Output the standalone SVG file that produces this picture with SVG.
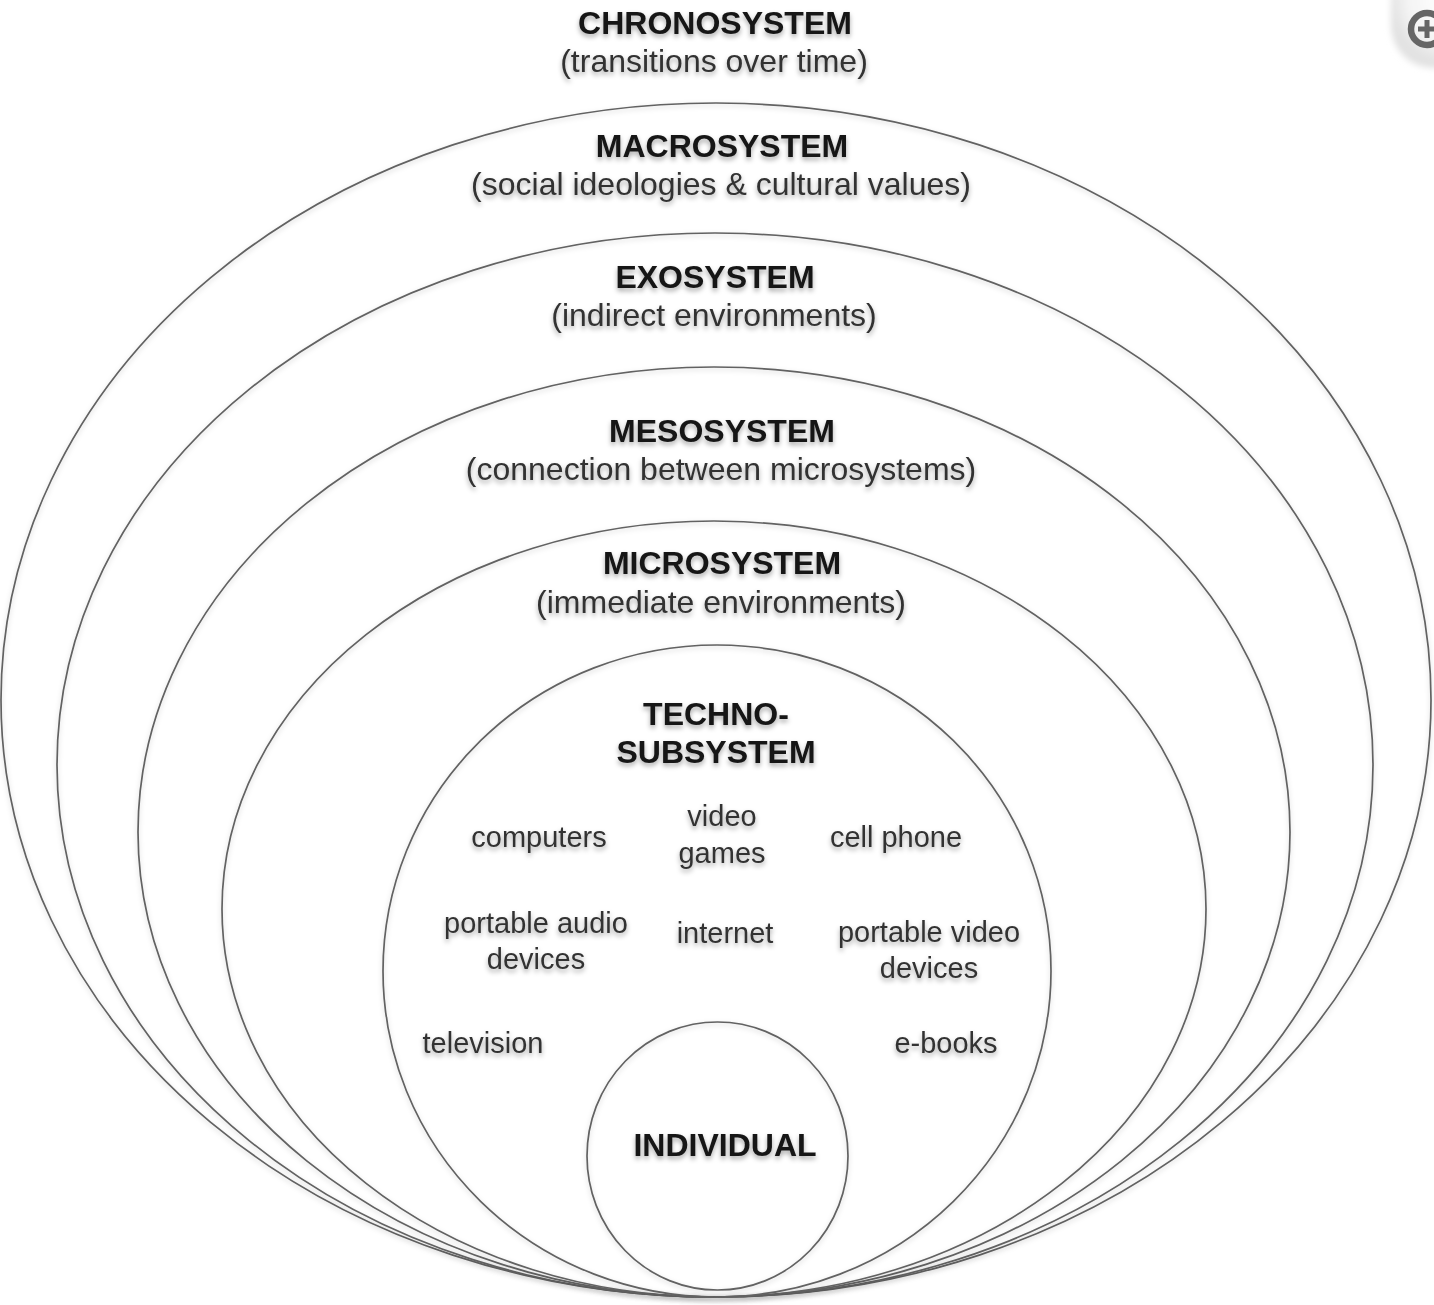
<svg xmlns="http://www.w3.org/2000/svg" width="1434" height="1305" viewBox="0 0 1434 1305">
<defs>
<filter id="tsh" x="-10%" y="-40%" width="120%" height="200%">
<feDropShadow dx="0" dy="3" stdDeviation="2.5" flood-color="#000" flood-opacity="0.35"/>
</filter>
<filter id="lsh" x="-5%" y="-5%" width="110%" height="110%">
<feDropShadow dx="0" dy="2" stdDeviation="2.5" flood-color="#000" flood-opacity="0.18"/>
</filter>
<radialGradient id="btn" cx="0.6" cy="0.35" r="0.6">
<stop offset="0" stop-color="#ffffff"/>
<stop offset="0.7" stop-color="#f4f4f4"/>
<stop offset="1" stop-color="#e2e2e2"/>
</radialGradient>
<filter id="soft"><feGaussianBlur stdDeviation="3"/></filter>
</defs>
<style>
.ring{fill:none;stroke:#626262;stroke-width:1.7;filter:url(#lsh)}
.t{font-family:"Liberation Sans",Arial,sans-serif;text-anchor:middle;filter:url(#tsh)}
.h{font-size:32px;font-weight:bold;fill:#141414}
.s{font-size:32px;fill:#333333}
.i{font-size:29px;fill:#333333}
</style>
<rect x="0" y="0" width="1434" height="1305" fill="#ffffff"/>

<g id="zoom-button">
<rect x="1391" y="-40" width="90" height="108" rx="42" fill="url(#btn)" filter="url(#soft)"/>
<circle cx="1427" cy="29" r="16" fill="none" stroke="#666666" stroke-width="6.5"/>
<rect x="1418" y="26.5" width="20" height="5" fill="#666666"/>
<rect x="1424.5" y="20" width="5" height="18" fill="#666666"/>
</g>

<g id="chronosystem">
<text class="t h" x="715" y="34">CHRONOSYSTEM</text>
<text class="t s" x="714" y="72">(transitions over time)</text>
</g>

<g id="macrosystem">
<ellipse class="ring" cx="716" cy="700" rx="715" ry="597"/>
<text class="t h" x="722" y="157">MACROSYSTEM</text>
<text class="t s" x="721" y="195">(social ideologies &amp; cultural values)</text>
</g>

<g id="exosystem">
<ellipse class="ring" cx="715" cy="765" rx="658" ry="532"/>
<text class="t h" x="715" y="288">EXOSYSTEM</text>
<text class="t s" x="714" y="326">(indirect environments)</text>
</g>

<g id="mesosystem">
<ellipse class="ring" cx="714" cy="832" rx="576" ry="465"/>
<text class="t h" x="722" y="442">MESOSYSTEM</text>
<text class="t s" x="721" y="480">(connection between microsystems)</text>
</g>

<g id="microsystem">
<ellipse class="ring" cx="714" cy="909" rx="492" ry="388"/>
<text class="t h" x="722" y="574">MICROSYSTEM</text>
<text class="t s" x="721" y="613">(immediate environments)</text>
</g>

<g id="techno-subsystem">
<ellipse class="ring" cx="717" cy="971" rx="334" ry="326"/>
<text class="t h" x="716" y="725">TECHNO-</text>
<text class="t h" x="716" y="763">SUBSYSTEM</text>
<text class="t i" x="539" y="847">computers</text>
<text class="t i" x="722" y="826">video</text>
<text class="t i" x="722" y="863">games</text>
<text class="t i" x="896" y="847">cell phone</text>
<text class="t i" x="536" y="933">portable audio</text>
<text class="t i" x="536" y="969">devices</text>
<text class="t i" x="725" y="943">internet</text>
<text class="t i" x="929" y="942">portable video</text>
<text class="t i" x="929" y="978">devices</text>
<text class="t i" x="483" y="1053">television</text>
<text class="t i" x="946" y="1053">e-books</text>
</g>

<g id="individual">
<ellipse class="ring" cx="717.5" cy="1156" rx="130.5" ry="134"/>
<text class="t h" x="725" y="1156">INDIVIDUAL</text>
</g>

<g id="connectors"></g>
</svg>
